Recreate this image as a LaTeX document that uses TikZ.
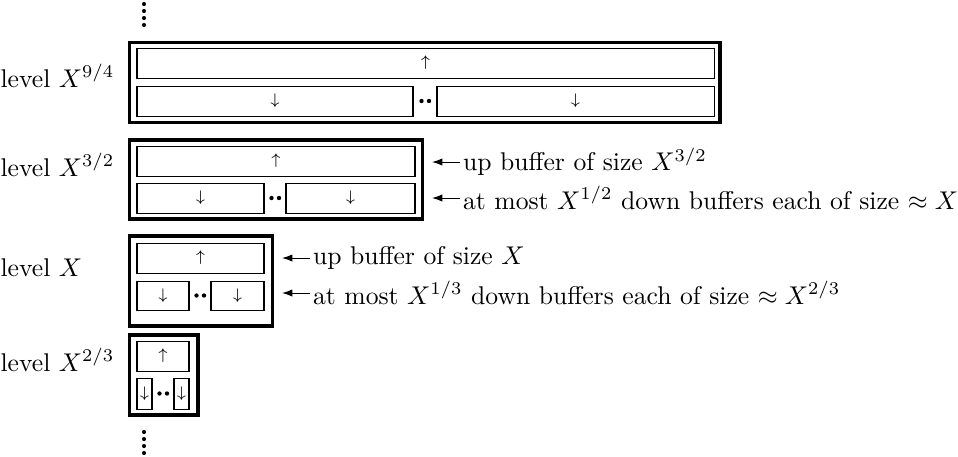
\documentclass[tikz,border=0pt]{standalone}
\usetikzlibrary{arrows.meta}
\newcommand\pbox[7]{\node[#1, minimum width={(#5-#3)*0.39pt}, minimum height={(#6-#4)*0.39pt}] (#2) at ({(#3+#5)/2},{(#4+#6)/2}) {#7};}
\tikzset{
  inbox/.style={draw, line width=0.4pt, inner sep=0pt, outer sep=0pt, font=\fontsize{6.5}{7}\selectfont},
  outbox/.style={draw, line width=1.2pt, inner sep=0pt, outer sep=0pt},
  lvl/.style={anchor=base west, inner sep=0pt},
  lbl/.style={anchor=west, inner sep=1pt},
  conn/.style={line width=0.4pt, -{Latex[length=4pt,width=2.8pt]}},
  dot/.style={fill=black}
}
\begin{document}
\begin{tikzpicture}[x=0.39pt,y=-0.39pt]
\useasboundingbox (0,0) rectangle (958,456);
% top vertical dots
\foreach \yy in {4,11,18,25} \fill[dot] (144,\yy) circle[radius=0.8pt];
% level X^{9/4}
\pbox{outbox}{o94}{129.5}{42.5}{720}{122.5}{}
\pbox{inbox}{u94}{137}{48}{714}{78}{$\uparrow$}
\pbox{inbox}{da94}{137}{86}{413}{116}{$\downarrow$}
\pbox{inbox}{db94}{437}{86}{714}{116}{$\downarrow$}
\fill[dot] (421.5,101) circle[radius=0.85pt] (429,101) circle[radius=0.85pt];
\node[lvl] (lv94) at (0,87) {level $X^{9/4}$};
% level X^{3/2}
\pbox{outbox}{o32}{129.5}{140}{422.5}{219}{}
\pbox{inbox}{u32}{137}{146}{415}{176}{$\uparrow$}
\pbox{inbox}{da32}{137}{183}{264}{213}{$\downarrow$}
\pbox{inbox}{db32}{286}{183}{415}{213}{$\downarrow$}
\fill[dot] (271.5,198) circle[radius=0.85pt] (279,198) circle[radius=0.85pt];
\node[lvl] (lv32) at (0,176) {level $X^{3/2}$};
\node[lbl] (t32u) at (460,162) {up buffer of size $X^{3/2}$};
\node[lbl] (t32d) at (460,198) {at most $X^{1/2}$ down buffers each of size $\approx X$};
\coordinate (p32u) at (432,162);
\coordinate (p32d) at (432,198);
\draw[conn] (t32u.west) -- (p32u);
\draw[conn] (t32d.west) -- (p32d);
% level X
\pbox{outbox}{ox}{129.5}{236}{272.5}{326}{}
\pbox{inbox}{ux}{137}{243}{264}{273}{$\uparrow$}
\pbox{inbox}{dax}{137}{281}{189}{310}{$\downarrow$}
\pbox{inbox}{dbx}{211}{281}{264}{310}{$\downarrow$}
\fill[dot] (196.5,295.5) circle[radius=0.85pt] (204,295.5) circle[radius=0.85pt];
\node[lvl] (lvx) at (0,276) {level $X$};
\node[lbl] (txu) at (310,258) {up buffer of size $X$};
\node[lbl] (txd) at (310,293) {at most $X^{1/3}$ down buffers each of size $\approx X^{2/3}$};
\coordinate (pxu) at (282,258);
\coordinate (pxd) at (282,293);
\draw[conn] (txu.west) -- (pxu);
\draw[conn] (txd.west) -- (pxd);
% level X^{2/3}
\pbox{outbox}{o23}{129.5}{335}{198}{415}{}
\pbox{inbox}{u23}{137}{341}{189}{371}{$\uparrow$}
\pbox{inbox}{da23}{137}{378}{152}{409}{$\downarrow$}
\pbox{inbox}{db23}{174}{378}{189}{409}{$\downarrow$}
\fill[dot] (159.5,393.5) circle[radius=0.85pt] (167,393.5) circle[radius=0.85pt];
\node[lvl] (lv23) at (0,371) {level $X^{2/3}$};
% bottom vertical dots
\foreach \yy in {432,439,446,453} \fill[dot] (144,\yy) circle[radius=0.8pt];
\end{tikzpicture}
\end{document}
